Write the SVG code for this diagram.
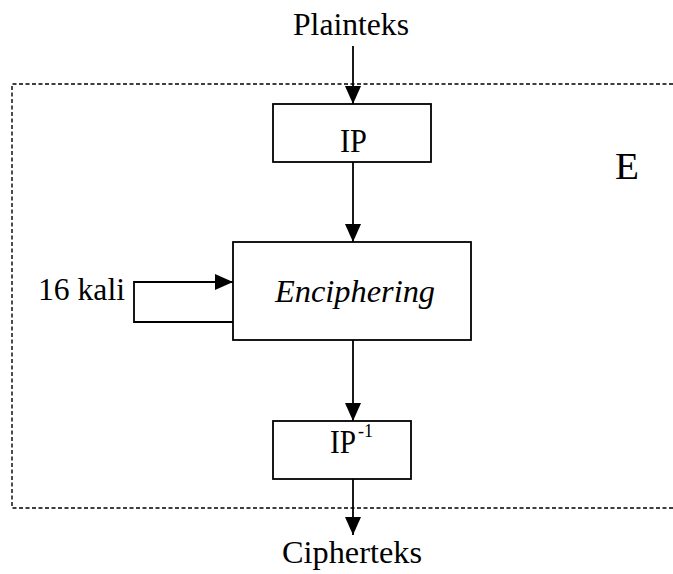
<svg xmlns="http://www.w3.org/2000/svg" width="673" height="574" viewBox="0 0 673 574">
<style>
text{font-family:"Liberation Serif","Times New Roman",serif;fill:#000;}
.box{fill:#fff;stroke:#000;stroke-width:1.8;}
.ln{fill:none;stroke:#000;stroke-width:1.8;}
.dash{fill:none;stroke:#000;stroke-width:1.4;stroke-dasharray:4 2.5;}
</style>
<defs>
<marker id="ah" markerWidth="18" markerHeight="16" viewBox="0 0 18 16" refX="18" refY="8" orient="auto" markerUnits="userSpaceOnUse">
<path d="M0,0 L18,8 L0,16 Z" fill="#000"/>
</marker>
</defs>
<rect width="673" height="574" fill="#fff"/>
<g id="boundary">
<path class="dash" d="M673,84 L12,84 L12,508 L673,508"/>
<text x="615" y="179" font-size="38" textLength="24" lengthAdjust="spacingAndGlyphs">E</text>
</g>
<g id="connectors">
<line class="ln" x1="353" y1="46" x2="353" y2="104" marker-end="url(#ah)"/>
<line class="ln" x1="353" y1="162" x2="353" y2="242" marker-end="url(#ah)"/>
<line class="ln" x1="353" y1="340" x2="353" y2="421" marker-end="url(#ah)"/>
<line class="ln" x1="353" y1="479" x2="353" y2="535" marker-end="url(#ah)"/>
<path class="ln" d="M233,322 L134,322 L134,282 L233,282" marker-end="url(#ah)"/>
</g>
<g id="plainteks">
<text x="293" y="35" font-size="32" textLength="116" lengthAdjust="spacingAndGlyphs">Plainteks</text>
</g>
<g id="ip">
<rect class="box" x="273" y="104" width="158" height="58"/>
<text x="340" y="152" font-size="34" textLength="27" lengthAdjust="spacingAndGlyphs">IP</text>
</g>
<g id="enciphering">
<rect class="box" x="233" y="242" width="238" height="98"/>
<text x="275" y="302" font-size="32" font-style="italic" textLength="160" lengthAdjust="spacingAndGlyphs">Enciphering</text>
</g>
<g id="loop-label">
<text x="38" y="300" font-size="31" textLength="87" lengthAdjust="spacingAndGlyphs">16 kali</text>
</g>
<g id="ip-inv">
<rect class="box" x="273" y="421" width="138" height="58"/>
<text x="330" y="453" font-size="33" textLength="26" lengthAdjust="spacingAndGlyphs">IP</text>
<text x="358" y="437" font-size="18">-1</text>
</g>
<g id="cipherteks">
<text x="282" y="563" font-size="32" textLength="140" lengthAdjust="spacingAndGlyphs">Cipherteks</text>
</g>
</svg>
